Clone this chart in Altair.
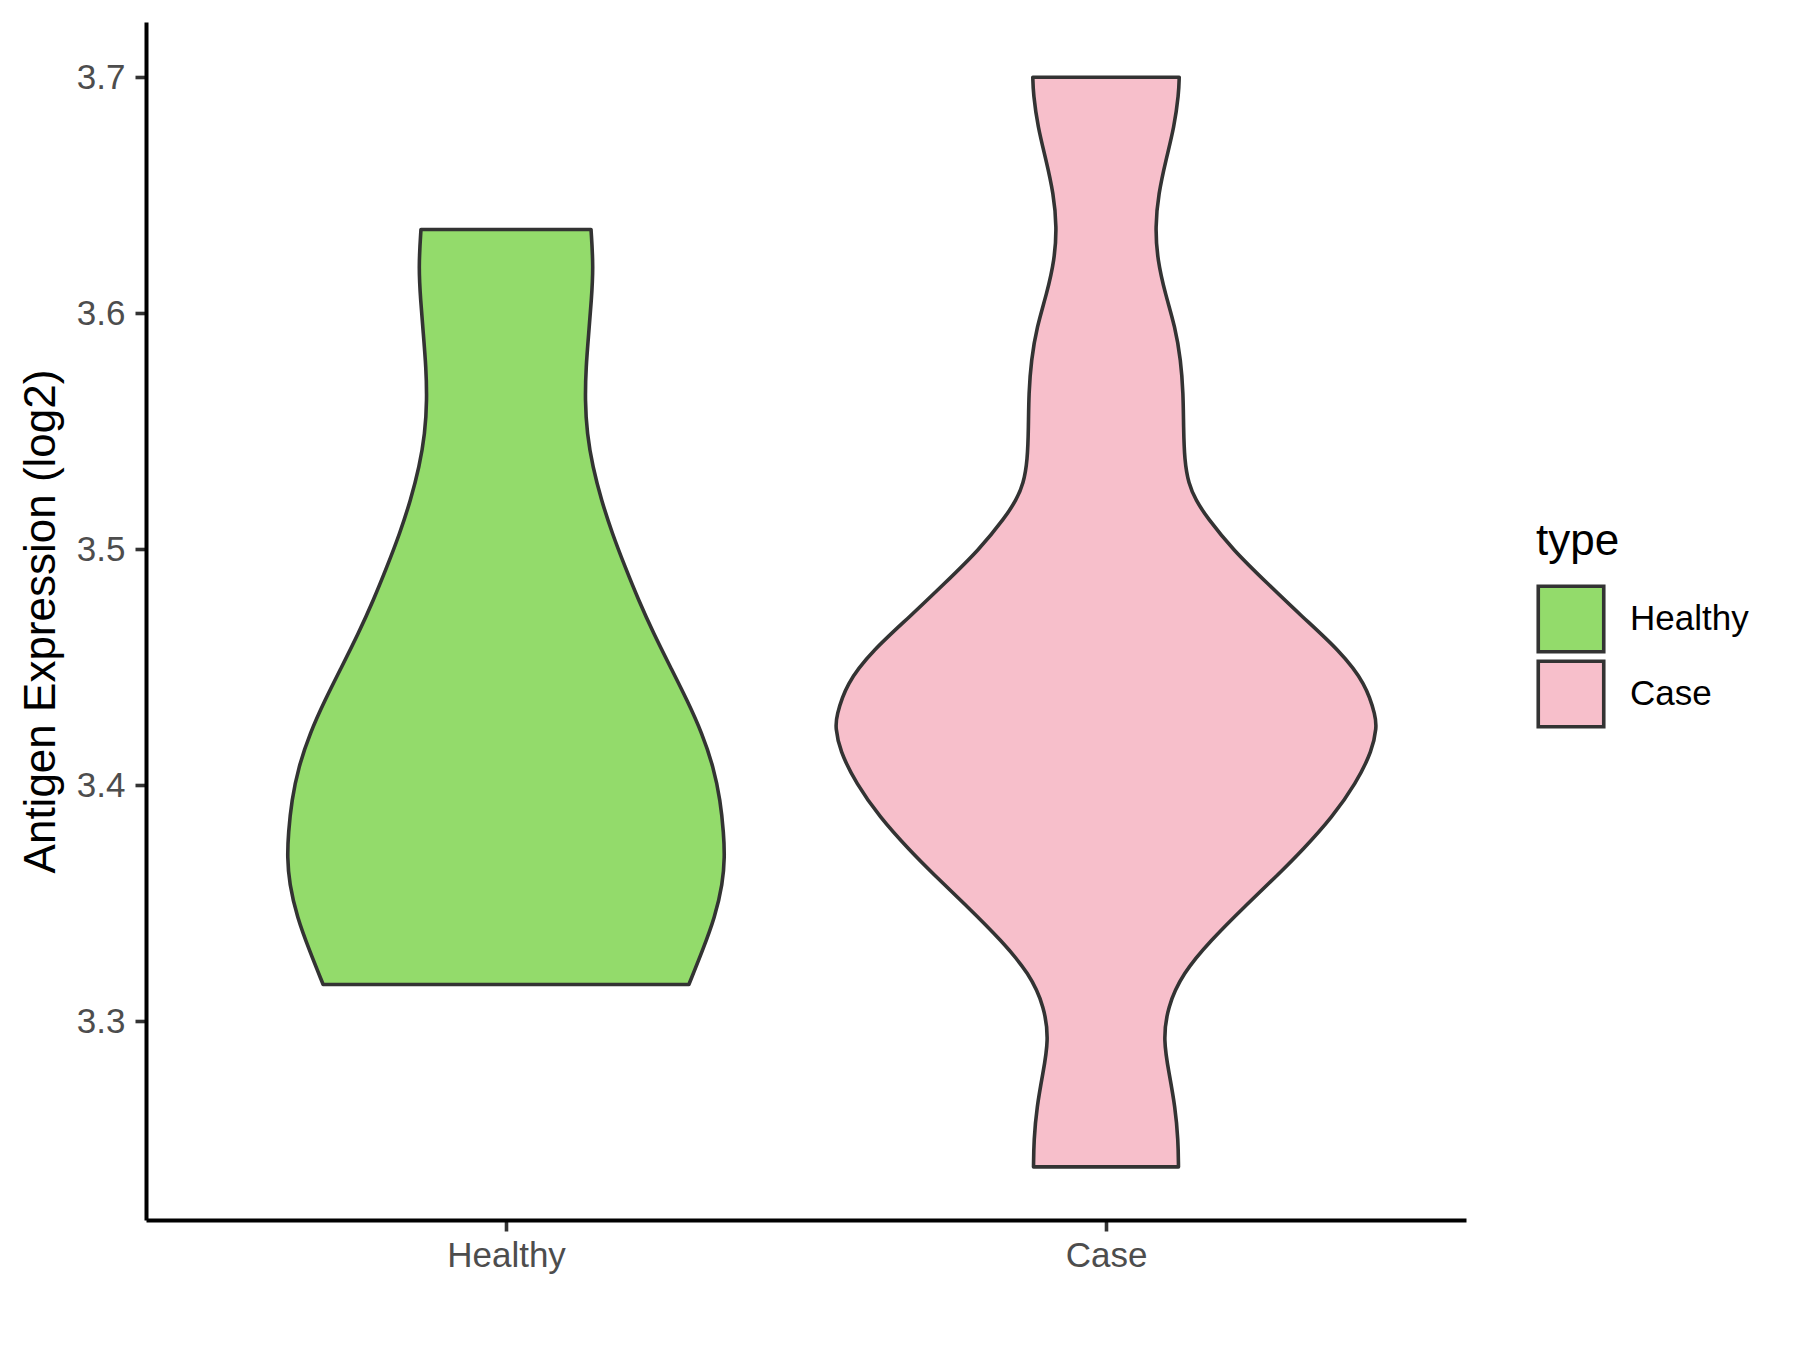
import altair as alt
import pandas as pd

types = ["Healthy", "Case"]
colors = ["#93DB6B", "#F7BFCB"]
positions = [1, 2]

# Violin outlines: expression value and half-width (in category units)
healthy_value = [3.6355, 3.6196, 3.6055, 3.5914, 3.5772, 3.5631, 3.5490, 3.5349,
                 3.5208, 3.5067, 3.4925, 3.4784, 3.4643, 3.4501, 3.4360, 3.4219,
                 3.4078, 3.3936, 3.3795, 3.3696, 3.3583, 3.3442, 3.3301, 3.3156]
healthy_half = [0.1417, 0.1457, 0.1423, 0.1378, 0.1333, 0.1317, 0.1350, 0.1445,
                0.1590, 0.1770, 0.1985, 0.2210, 0.2460, 0.2740, 0.3020, 0.3270,
                0.3457, 0.3573, 0.3628, 0.3645, 0.3612, 0.3483, 0.3278, 0.3048]

case_value = [3.7000, 3.6931, 3.6789, 3.6648, 3.6507, 3.6366, 3.6225, 3.6083,
              3.5942, 3.5801, 3.5660, 3.5518, 3.5377, 3.5278, 3.5208, 3.5137,
              3.4996, 3.4855, 3.4713, 3.4572, 3.4431, 3.4289, 3.4247, 3.4148,
              3.4007, 3.3866, 3.3725, 3.3626, 3.3484, 3.3343, 3.3202, 3.3061,
              3.2919, 3.2778, 3.2637, 3.2496, 3.2383]
case_half = [0.1220, 0.1213, 0.1137, 0.0997, 0.0875, 0.0820, 0.0858, 0.0987,
             0.1153, 0.1247, 0.1287, 0.1292, 0.1308, 0.1375, 0.1497, 0.1675,
             0.2120, 0.2692, 0.3275, 0.3887, 0.4330, 0.4497, 0.4508, 0.4442,
             0.4163, 0.3775, 0.3275, 0.2887, 0.2303, 0.1747, 0.1275, 0.1025,
             0.0953, 0.1053, 0.1153, 0.1203, 0.1208]

y_ticks = [3.3, 3.4, 3.5, 3.6, 3.7]

rows = []
for t, pos, vals, halves in [("Healthy", positions[0], healthy_value, healthy_half),
                             ("Case", positions[1], case_value, case_half)]:
    for v, w in zip(vals, halves):
        rows.append({"type": t, "value": v, "lo": pos - w, "hi": pos + w})
df = pd.DataFrame(rows)

FONT = "Liberation Sans"

chart = alt.Chart(df).mark_area(
    orient="horizontal",
    interpolate="basis",
    stroke="#333333",
    strokeWidth=3.6,
    strokeJoin="round",
    opacity=1,
    fillOpacity=1,
).encode(
    y=alt.Y(
        "value:Q",
        scale=alt.Scale(domain=[3.2158, 3.7234], nice=False, zero=False),
        axis=alt.Axis(
            title="Antigen Expression (log2)",
            values=y_ticks,
            format=".1f",
            grid=False,
            domainColor="black",
            domainWidth=4,
            tickColor="#333333",
            tickWidth=3.6,
            tickSize=11,
            labelFontSize=35,
            labelColor="#4D4D4D",
            labelPadding=10,
            labelFont=FONT,
            titleFont=FONT,
            titleFontSize=44,
            titleFontWeight="normal",
            titleColor="black",
            titleBaseline="alphabetic",
            titleX=-92,
        ),
    ),
    x=alt.X(
        "lo:Q",
        scale=alt.Scale(domain=[0.4, 2.6], nice=False, zero=False),
        axis=alt.Axis(
            title="",
            values=positions,
            labelExpr="datum.value == 1 ? 'Healthy' : 'Case'",
            grid=False,
            domainColor="black",
            domainWidth=4,
            tickColor="#333333",
            tickWidth=3.6,
            tickSize=11,
            labelFontSize=35,
            labelColor="#4D4D4D",
            labelPadding=7,
            labelFont=FONT,
        ),
    ),
    x2="hi:Q",
    color=alt.Color(
        "type:N",
        scale=alt.Scale(domain=types, range=colors),
        legend=alt.Legend(
            title="type",
            orient="none",
            legendX=1390,
            legendY=498,
            padding=0,
            titleFont=FONT,
            titleFontSize=44,
            titleFontWeight="normal",
            titleColor="black",
            titlePadding=20,
            labelFont=FONT,
            labelFontSize=35,
            labelColor="black",
            labelOffset=24,
            symbolType="square",
            symbolSize=4290,
            symbolStrokeWidth=3.6,
            symbolStrokeColor="#333333",
            symbolOpacity=1,
            rowPadding=-11,
        ),
    ),
).properties(
    width=1320,
    height=1198,
    padding={"left": 138, "top": 14, "right": 326, "bottom": 120},
    autosize=alt.AutoSizeParams(type="none"),
    background="white",
).configure(
    font=FONT
).configure_view(
    strokeWidth=0
)

chart.save("out.html", embed_options={"renderer": "svg", "actions": False})
